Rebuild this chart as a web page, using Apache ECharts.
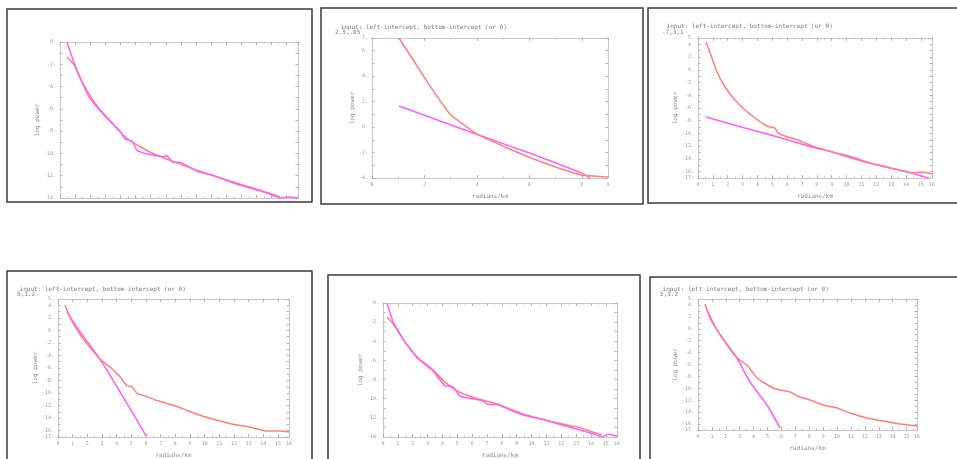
<!DOCTYPE html>
<html><head><meta charset="utf-8">
<script src="https://cdn.jsdelivr.net/npm/echarts@6/dist/echarts.min.js"></script>
<style>html,body{margin:0;padding:0;background:#fff}#c{width:957px;height:459px}</style>
</head><body><div id="c"></div>
<script>
// ---- data (x in axis units, y = log power) ----
const titleLine1 = 'input: left-intercept, bottom-intercept (or 0)';
const titleLine2 = ['', '2.5,.05', '-7,3.1', '5,1.2', '', '5,1.2'];
const yAxisName = 'log power';
const xAxisName = 'radians/km';

const p1Wiggly = [[0.46,0],[0.93,-1.88],[1.46,-3.59],[1.92,-4.94],[2.45,-5.83],[2.91,-6.55],[3.44,-7.27],[3.97,-7.99],[4.3,-8.7],[4.77,-8.9],[5.09,-9.7],[5.51,-9.96],[5.96,-10.1],[6.82,-10.3],[7.09,-10.2],[7.48,-10.8],[7.92,-10.8],[8.27,-11.0],[9.25,-11.7],[9.94,-11.9],[10.38,-12.1],[11.47,-12.65],[12.55,-13.1],[13.68,-13.55],[14.57,-14],[15.11,-13.9],[15.75,-14]];
const p1Smooth = [[0.46,-1.35],[0.93,-2.06],[1.46,-3.59],[2.45,-5.74],[3.44,-7.27],[4.3,-8.5],[5.31,-9.4],[6.3,-10.1],[7.63,-10.8],[9.25,-11.6],[11.27,-12.5],[13.24,-13.3],[14.57,-13.9]];

const p2Data = [[1.03,7],[2.14,3.46],[3.01,0.95],[4.04,-0.6],[5.07,-1.56],[6.06,-2.43],[7.09,-3.2],[7.97,-3.76],[9,-3.92]];
const p2Line = [[1.03,1.66],[4.04,-0.6],[6.0,-2.04],[7.97,-3.6],[8.31,-4]];

const p3Data = [[0.54,4.37],[0.94,1.86],[1.28,-0.34],[1.82,-2.7],[2.49,-4.74],[3.16,-6.31],[3.84,-7.57],[4.51,-8.67],[4.85,-8.98],[5.18,-9.14],[5.38,-9.93],[6.06,-10.56],[6.73,-11.03],[7.2,-11.5],[7.88,-12.13],[9.02,-12.91],[10.1,-13.7],[11.24,-14.49],[12.38,-15.11],[13.46,-15.74],[14.4,-16.2],[15.08,-16.06],[15.75,-16.37]];
const p3Line = [[0.54,-7.41],[3.16,-9.14],[5.38,-10.56],[7.67,-12.13],[9.89,-13.39],[12.12,-14.96],[14.4,-16.21],[15.48,-17]];

const p4Data = [[0.48,4.06],[0.82,2.01],[1.5,-0.66],[2.18,-2.7],[2.86,-4.59],[3.55,-5.84],[4.23,-7.41],[4.7,-8.83],[5.05,-8.99],[5.39,-10.09],[6.07,-10.56],[6.75,-11.19],[7.43,-11.66],[8.11,-12.13],[8.8,-12.76],[9.68,-13.54],[10.84,-14.33],[11.93,-14.96],[13.09,-15.43],[14.25,-16.06],[15.14,-16.06],[15.75,-16.21]];
const p4Line = [[0.61,2.96],[1.5,-0.19],[2.86,-4.59],[4.02,-8.99],[5.11,-13.23],[6.0,-16.84]];

const p5Wiggly = [[0.27,0],[0.67,-1.94],[1.48,-4.08],[2.36,-5.83],[3.3,-7.0],[4.17,-8.65],[4.71,-8.75],[5.18,-9.72],[5.72,-9.92],[6.66,-10.21],[7.07,-10.6],[7.74,-10.6],[8.41,-11.08],[9.56,-11.76],[10.7,-12.15],[11.78,-12.64],[12.92,-13.13],[14.07,-13.61],[14.74,-14],[15.14,-13.71],[15.75,-13.9]];
const p5Smooth = [[0.27,-1.46],[0.67,-2.14],[1.48,-4.08],[2.36,-5.74],[3.3,-6.9],[4.17,-8.26],[5.05,-9.24],[6.19,-9.92],[7.34,-10.4],[8.41,-10.99],[9.56,-11.67],[10.7,-12.15],[11.78,-12.54],[13.26,-13.03],[14.74,-13.81]];

const p6Data = [[0.5,4.16],[0.86,1.81],[1.37,-0.21],[2.09,-2.73],[2.8,-4.91],[3.52,-6.08],[4.24,-8.27],[4.67,-8.94],[5.39,-9.95],[5.9,-10.28],[6.62,-10.62],[7.34,-11.46],[8.05,-11.96],[8.99,-12.8],[10.0,-13.3],[10.93,-14.15],[12.15,-14.98],[13.3,-15.49],[14.53,-15.99],[15.75,-16.33]];
const p6Line = [[0.58,3.49],[1.37,-0.21],[2.8,-4.91],[3.74,-8.94],[4.96,-12.8],[5.9,-16.66]];

// tick labels
const xTicksWide = ['0','1','2','3','4','5','6','7','8','9','10','11','12','13','14','15','16'];
const xTicksP2 = ['0','2','4','6','8','9'];
const yTicksA = [-14,-12,-10,-8,-6,-4,-2,0];
const yTicksB = [-4,-2,0,2,4,6,7];
const yTicksC = [-17,-16,-14,-12,-10,-8,-6,-4,-2,0,2,4,5];

// ---- layout ----
const ORANGE = '#ff7e78', MAGENTA = '#ff5cff';
const FONT = 'DejaVu Sans Mono';
const panels = [
  {grid:{left:60,top:42,width:238,height:156}, x:[0,15.75,1], y:[-14,0], yl:yTicksA, xl:xTicksWide, showX:false, a:p1Wiggly, ac:MAGENTA, b:p1Smooth, bc:ORANGE, box:[7,9,305,193]},
  {grid:{left:372,top:38,width:236,height:140}, x:[0,9,2], y:[-4,7], yl:yTicksB, xl:xTicksP2, showX:true, a:p2Data, ac:ORANGE, b:p2Line, bc:MAGENTA, box:[321,8,322,196], t:[341,24,335,29]},
  {grid:{left:698,top:38,width:234,height:140}, x:[0,15.75,1], y:[-17,5], yl:yTicksC, xl:xTicksWide, showX:true, a:p3Data, ac:ORANGE, b:p3Line, bc:MAGENTA, box:[648,8,320,195], t:[667,23,662,29]},
  {grid:{left:58,top:299,width:231,height:140}, x:[0,15.75,1], y:[-17,5], yl:yTicksC, xl:xTicksWide, showX:true, a:p4Data, ac:ORANGE, b:p4Line, bc:MAGENTA, box:[7,271,305,200], t:[20,286,17,291]},
  {grid:{left:383,top:303,width:234,height:144}, x:[0,15.75,1], y:[-14,0], yl:yTicksA, xl:xTicksWide, showX:true, a:p5Wiggly, ac:MAGENTA, b:p5Smooth, bc:ORANGE, box:[328,275,312,200]},
  {grid:{left:698,top:299,width:219,height:131}, x:[0,15.75,1], y:[-17,5], yl:yTicksC, xl:xTicksWide, showX:true, a:p6Data, ac:ORANGE, b:p6Line, bc:MAGENTA, box:[650,277,320,200], t:[663,286,660,291]}
];

const grid=[], xAxis=[], yAxis=[], series=[], title=[], graphic=[];
const lineC = '#c8c8c8', labC = '#9a9a9a';
panels.forEach((p,i)=>{
  grid.push(Object.assign({containLabel:false}, p.grid));
  const tick = {show:true, inside:true, length:3, lineStyle:{color:'#b0b0b0', width:1}};
  const ytick = {show:true, inside:true, length:2.5, lineStyle:{color:'#b0b0b0', width:1}};
  const minor = {show:true, splitNumber:2, length:1.5, lineStyle:{color:'#c0c0c0', width:1}};
  const xl = p.xl;
  const axLine = {onZero:false, lineStyle:{color:lineC}};
  xAxis.push({type:'value', gridIndex:i, min:p.x[0], max:p.x[1], interval:p.x[2], position:'bottom',
    axisLine:axLine, axisTick:tick, minorTick:minor, splitLine:{show:false},
    axisLabel:{show:p.showX, fontSize:5, fontFamily:FONT, color:labC, margin:4, formatter:(v,idx)=>xl[idx]!==undefined?xl[idx]:''},
    name:p.showX?xAxisName:'', nameLocation:'middle', nameGap:15, nameTextStyle:{fontSize:6, fontFamily:FONT, color:'#8a8a8a'}});
  xAxis.push({type:'value', gridIndex:i, min:p.x[0], max:p.x[1], interval:p.x[2], position:'top',
    axisLine:axLine, axisTick:tick, minorTick:minor, splitLine:{show:false}, axisLabel:{show:false}});
  yAxis.push({type:'value', gridIndex:i, min:p.y[0], max:p.y[1], interval:1, position:'left',
    axisLine:axLine, axisTick:ytick, splitLine:{show:false},
    axisLabel:{customValues:p.yl, fontSize:5, fontFamily:FONT, color:labC, margin:4, formatter:v=>v+'.'},
    name:yAxisName, nameLocation:'middle', nameGap:16, nameRotate:90, nameTextStyle:{fontSize:6, fontFamily:FONT, color:'#8a8a8a'}});
  yAxis.push({type:'value', gridIndex:i, min:p.y[0], max:p.y[1], interval:1, position:'right',
    axisLine:axLine, axisTick:ytick, splitLine:{show:false}, axisLabel:{show:false}});
  series.push({type:'line', xAxisIndex:2*i, yAxisIndex:2*i, data:p.b, showSymbol:false, smooth:0.2, lineStyle:{color:p.bc, width:1.5}, z:2});
  series.push({type:'line', xAxisIndex:2*i, yAxisIndex:2*i, data:p.a, showSymbol:false, smooth:0.1, lineStyle:{color:p.ac, width:1.5}, z:3});
  if (p.t) {
    title.push({text:' '+titleLine1, left:p.t[0]-4, top:p.t[1], padding:0, textStyle:{fontSize:6, fontWeight:'normal', fontFamily:FONT, color:'#7a7a7a'}});
    title.push({text:titleLine2[i], left:p.t[2], top:p.t[3], padding:0, textStyle:{fontSize:6, fontWeight:'normal', fontFamily:FONT, color:'#7a7a7a'}});
  }
  graphic.push({type:'rect', shape:{x:p.box[0], y:p.box[1], width:p.box[2], height:p.box[3]}, style:{fill:'none', stroke:'#3a3a3a', lineWidth:1.5}, silent:true, z:100});
});

const chart = echarts.init(document.getElementById('c'), null, {renderer:'canvas'});
chart.setOption({animation:false, backgroundColor:'#fff', title, grid, xAxis, yAxis, series, graphic});
</script></body></html>
